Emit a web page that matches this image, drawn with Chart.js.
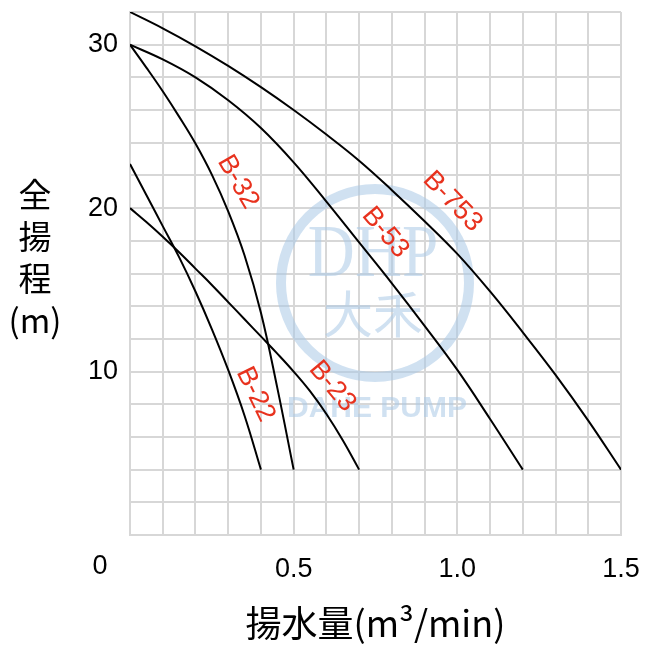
<!DOCTYPE html>
<html lang="ja">
<head>
<meta charset="UTF-8">
<title>揚水量 - 全揚程</title>
<script src="https://cdn.jsdelivr.net/npm/chart.js@4"></script>
<style>
  body { margin: 0; background: #fff; }
  #chart { display: block; }
</style>
</head>
<body>
<canvas id="chart" width="650" height="647"></canvas>
<script>
// performance curves (x: m3/min, y: m)
const seriesNames = ['B-753', 'B-53', 'B-32', 'B-22', 'B-23'];

const b753Flow = [0, 0.1, 0.2, 0.3, 0.4, 0.5, 0.6, 0.7, 0.8, 0.9, 1.0, 1.1, 1.2, 1.3, 1.4, 1.5];
const b753Head = [32, 31.0, 29.9, 28.7, 27.4, 26.0, 24.5, 22.9, 21.1, 19.2, 17.2, 14.9, 12.4, 9.8, 7.0, 4.0];

const b53Flow = [0, 0.1, 0.2, 0.3, 0.4, 0.5, 0.6, 0.7, 0.8, 0.9, 1.0, 1.1, 1.2];
const b53Head = [30, 29.1, 28.0, 26.6, 24.9, 22.8, 20.4, 17.9, 15.4, 12.8, 10.1, 7.1, 4.0];

const b32Flow = [0, 0.05, 0.1, 0.15, 0.2, 0.25, 0.3, 0.35, 0.4, 0.45, 0.5];
const b32Head = [30, 28.6, 27.15, 25.6, 23.95, 22.05, 19.8, 17.1, 13.6, 9.0, 4.0];

const b22Flow = [0, 0.05, 0.1, 0.15, 0.2, 0.25, 0.3, 0.35, 0.4];
const b22Head = [22.7, 20.8, 18.9, 17.0, 14.9, 12.6, 10.1, 7.3, 4.0];

const b23Flow = [0, 0.05, 0.1, 0.15, 0.2, 0.25, 0.3, 0.35, 0.4, 0.45, 0.5, 0.55, 0.6, 0.65, 0.7];
const b23Head = [20, 19.15, 18.25, 17.3, 16.3, 15.3, 14.25, 13.2, 12.15, 11.1, 10.0, 8.8, 7.4, 5.8, 4.0];

const xTickValues = [0, 0.5, 1.0, 1.5];
const xTickLabels = ['0', '0.5', '1.0', '1.5'];
const yTickValues = [10, 20, 30];
const yTickLabels = ['10', '20', '30'];

const xTitle = '揚水量(m³/min)';
const yTitleLines = ['全', '揚', '程', '(m)'];

// where the red curve names sit (data units) and how they are turned
const nameAtX = [0.985, 0.78, 0.33, 0.383, 0.618];
const nameAtY = [20.4, 18.5, 21.6, 8.6, 9.1];
const nameAngle = [46, 50, 60, 64, 50];

const flows = [b753Flow, b53Flow, b32Flow, b22Flow, b23Flow];
const heads = [b753Head, b53Head, b32Head, b22Head, b23Head];

const gridColor = '#d7d7d7';
const numFont = '"Liberation Sans", Arial, sans-serif';
const cjkFont = '"Noto Sans CJK JP", "Noto Sans CJK TC", sans-serif';

function pickLabel(v, values, labels) {
    for (let i = 0; i < values.length; i++) {
        if (Math.abs(v - values[i]) < 1e-6) return labels[i];
    }
    return '';
}

// light blue logo behind the curves
const watermark = {
    id: 'watermark',
    beforeDatasetsDraw(chart) {
        const ctx = chart.ctx;
        ctx.save();
        ctx.strokeStyle = 'rgba(170,200,230,0.55)';
        ctx.fillStyle = 'rgba(170,200,230,0.55)';
        ctx.lineWidth = 10;
        ctx.beginPath();
        ctx.arc(375, 283, 94, 0, Math.PI * 2);
        ctx.stroke();
        ctx.textAlign = 'center';
        ctx.textBaseline = 'middle';
        ctx.save();
        ctx.translate(373, 257);
        ctx.scale(0.88, 1);
        ctx.font = '74px "Liberation Serif", serif';
        ctx.fillText('DHP', 0, 0);
        ctx.restore();
        ctx.font = '50px ' + cjkFont;
        ctx.fillText('大禾', 373, 314);
        ctx.font = 'bold 30px ' + numFont;
        ctx.fillText('DAHE PUMP', 377, 409);
        ctx.restore();
    }
};

const extraText = {
    id: 'extraText',
    afterDraw(chart) {
        const ctx = chart.ctx;
        const xs = chart.scales.x;
        const ys = chart.scales.y;
        ctx.save();
        ctx.fillStyle = '#000';
        ctx.textAlign = 'center';
        ctx.textBaseline = 'middle';

        // y title, stacked
        ctx.font = '33px ' + cjkFont;
        yTitleLines.forEach((t, i) => {
            ctx.fillText(t, 35, 194 + i * 42);
        });

        // the "0" sits left of the corner
        ctx.font = '27px ' + numFont;
        ctx.fillText(xTickLabels[0], xs.getPixelForValue(xTickValues[0]) - 30, 567);

        // curve names
        ctx.fillStyle = '#e8321e';
        ctx.font = '27px ' + numFont;
        seriesNames.forEach((name, i) => {
            ctx.save();
            ctx.translate(xs.getPixelForValue(nameAtX[i]), ys.getPixelForValue(nameAtY[i]));
            ctx.rotate(nameAngle[i] * Math.PI / 180);
            ctx.fillText(name, 0, 0);
            ctx.restore();
        });
        ctx.restore();
    }
};

const datasets = seriesNames.map((name, i) => ({
    label: name,
    data: flows[i].map((f, j) => ({ x: f, y: heads[i][j] })),
    borderColor: '#000',
    borderWidth: 2,
    pointRadius: 0,
    fill: false,
    tension: 0.4
}));

new Chart(document.getElementById('chart'), {
    type: 'line',
    data: { datasets },
    options: {
        responsive: false,
        animation: false,
        layout: { padding: { left: 0, top: 12, right: 29, bottom: 0 } },
        plugins: {
            legend: { display: false },
            tooltip: { enabled: false }
        },
        scales: {
            x: {
                type: 'linear',
                min: 0,
                max: 1.5,
                afterFit(scale) {
                    scale.height = 112;
                    scale.paddingLeft = 0;
                    scale.paddingRight = 0;
                },
                grid: { color: gridColor, lineWidth: 2, drawTicks: false },
                border: { color: gridColor, width: 2 },
                ticks: {
                    stepSize: 0.1,
                    autoSkip: false,
                    maxRotation: 0,
                    padding: 18,
                    color: '#000',
                    font: { family: numFont, size: 27 },
                    callback: (v) => v === 0 ? '' : pickLabel(v, xTickValues, xTickLabels)
                },
                title: {
                    display: true,
                    text: xTitle,
                    color: '#000',
                    font: { family: cjkFont, size: 36 },
                    padding: { top: 0, bottom: 2 }
                }
            },
            y: {
                min: 0,
                max: 32,
                afterFit(scale) {
                    scale.width = 130;
                    scale.paddingTop = 0;
                    scale.paddingBottom = 0;
                },
                grid: { color: gridColor, lineWidth: 2, drawTicks: false },
                border: { color: gridColor, width: 2 },
                ticks: {
                    stepSize: 2,
                    autoSkip: false,
                    padding: 12,
                    color: '#000',
                    font: { family: numFont, size: 27 },
                    callback: (v) => pickLabel(v, yTickValues, yTickLabels)
                }
            }
        }
    },
    plugins: [watermark, extraText]
});
</script>
</body>
</html>
